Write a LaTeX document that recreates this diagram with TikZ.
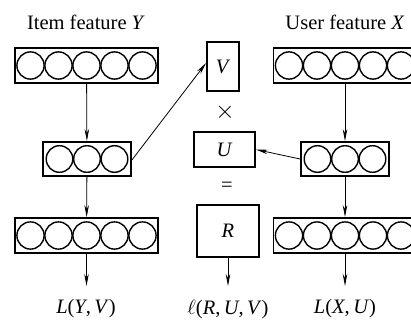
\documentclass[tikz,border=0pt]{standalone}
\usepackage{fontspec}
\setmainfont{Liberation Serif}
\usetikzlibrary{arrows.meta,calc}
\begin{document}
\begin{tikzpicture}[x=1pt,y=-1pt,
  box/.style={draw,line width=1.8pt,inner sep=0pt,rectangle},
  wide/.style={box,minimum width=143pt,minimum height=35pt},
  narrow/.style={box,minimum width=88pt,minimum height=34pt},
  unit/.style={line width=1.4pt},
  flow/.style={line width=0.8pt,-{Stealth[length=12pt,width=4.5pt]}},
  lbl/.style={font=\fontsize{20.5}{24}\selectfont,inner sep=0pt}]
\useasboundingbox (0,0) rectangle (411,321);

% item branch (left)
\node[lbl] (ty) at (86,22) {Item feature \textit{Y}};
\node[wide] (lt) at (86.5,65.5) {};
\node[narrow] (lm) at (87,159) {};
\node[wide] (lb) at (86.5,235.5) {};
\node[lbl] (ly) at (86,309) {\textit{L}(\textit{Y},\,\textit{V})};

% user branch (right)
\node[lbl] (tx) at (345,22) {User feature \textit{X}};
\node[wide] (rt) at (345,65.5) {};
\node[narrow] (rm) at (345,159) {};
\node[wide] (rb) at (345,235.5) {};
\node[lbl] (lx) at (345,309) {\textit{L}(\textit{X},\,\textit{U})};

% neurons inside the layers
\foreach \b in {lt,lb,rt,rb}
  \foreach \i in {-2,...,2}
    \draw[unit] ($(\b)+(\i*28,0)$) circle[radius=13.6pt];
\foreach \b in {lm,rm}
  \foreach \i in {-1,0,1}
    \draw[unit] ($(\b)+(\i*27.5,0)$) circle[radius=13.3pt];

% factorisation R = U x V
\node[box,lbl,minimum width=32pt,minimum height=49pt] (V) at (223,66.5) {\textit{V}};
\node[lbl,font=\fontsize{24}{28}\selectfont] (times) at (225,112) {$\times$};
\node[box,lbl,minimum width=61pt,minimum height=35pt] (U) at (224.5,149.5) {\textit{U}};
\node[lbl] (eq) at (227,187) {=};
\node[box,lbl,minimum width=62pt,minimum height=52pt] (R) at (228,231) {\textit{R}};
\node[lbl] (lr) at (228,309) {$\ell$(\textit{R},\,\textit{U},\,\textit{V})};

% connectors
\draw[flow] (lt) -- (lm);
\draw[flow] (lm) -- (lb);
\draw[flow] (lb.south) -- (lb.south |- 0,286);
\draw[flow] (rt) -- (rm);
\draw[flow] (rm) -- (rb);
\draw[flow] (rb.south) -- (rb.south |- 0,286);
\draw[flow] (R.south) -- (R.south |- 0,286);
\draw[flow] ([yshift=-1pt]lm.east) -- ([yshift=3.5pt]V.west);
\draw[flow] (rm.west) -- (U.east);
\end{tikzpicture}
\end{document}
